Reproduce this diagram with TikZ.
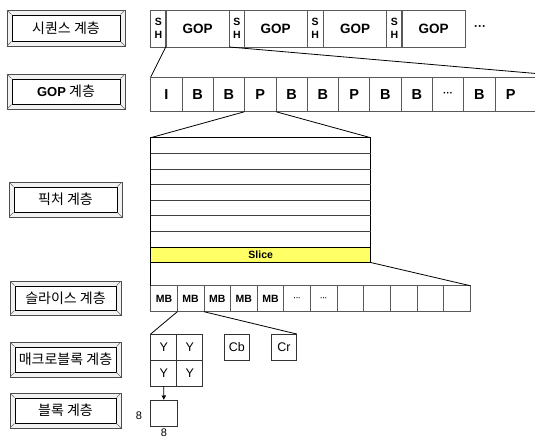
\documentclass[tikz,border=0pt]{standalone}
\usepackage{fontspec}
\setmainfont{Liberation Sans}
\newfontfamily\kr{Noto Sans CJK KR}
\usetikzlibrary{arrows.meta}
\definecolor{slicey}{HTML}{FFFF66}
\tikzset{
  cell/.style={draw=black!65, line width=0.8pt, inner sep=0pt, outer sep=0pt, anchor=north west, font=\bfseries},
  conn/.style={draw=black, line width=0.8pt},
  labin/.style={draw=black, line width=1pt, fill=white, inner sep=0pt, font=\kr\fontsize{14}{16}\selectfont},
}
% \bevbox{name}{x1}{y1}{x2}{y2}{text}
\newcommand\bevbox[6]{%
  \path[draw=black!70, line width=0.6pt, fill=gray!10] (#2,#3) rectangle (#4,#5);
  \node[labin, minimum width=#4-#2-10, minimum height=#5-#3-10] (#1) at ({(#2+#4)/2},{(#3+#5)/2}) {#6};
  \draw[black!60, line width=0.5pt] (#2,#3) -- (#1.north west) (#4,#3) -- (#1.north east)
     (#2,#5) -- (#1.south west) (#4,#5) -- (#1.south east);
}
\begin{document}
\begin{tikzpicture}[x=1pt,y=-1pt]
\useasboundingbox (0,0) rectangle (535,439);
\clip (0,0) rectangle (535,439);
\fill[white] (0,0) rectangle (535,439);

% ---------- left labels ----------
\bevbox{Lseq}{7}{10}{125}{46}{시퀀스 계층}
\bevbox{Lgop}{7}{74}{125}{109}{{\rmfamily\bfseries\fontsize{13}{15}\selectfont GOP} 계층}
\bevbox{Lpic}{9}{182}{122}{217}{픽처 계층}
\bevbox{Lsli}{10}{281}{121}{315}{슬라이스 계층}
\bevbox{Lmac}{10}{342}{121}{377}{매크로블록 계층}
\bevbox{Lblk}{10}{393}{121}{428}{블록 계층}

% ---------- sequence row ----------
\tikzset{shc/.style={cell, minimum width=15.3, minimum height=37, align=center, font=\bfseries\fontsize{10.5}{12.5}\selectfont},
         gopc/.style={cell, minimum height=37, font=\bfseries\fontsize{13.5}{15}\selectfont}}
\node[shc] (sh1) at (150.7,10) {S\\H};
\node[gopc, minimum width=63.6] (s1) at (165.7,10) {GOP};
\node[shc] (sh2) at (229.3,10) {S\\H};
\node[gopc, minimum width=62.7] (s2) at (244.3,10) {GOP};
\node[shc, minimum width=16.3] (sh3) at (307,10) {S\\H};
\node[gopc, minimum width=63.4] (s3) at (323.3,10) {GOP};
\node[shc] (sh4) at (386.7,10) {S\\H};
\node[gopc, minimum width=64] (s4) at (401.7,10) {GOP};
\node[font=\bfseries\fontsize{12}{14}\selectfont] (sdots) at (480,28.5) {···};

% ---------- GOP row ----------
\tikzset{gc/.style={cell, minimum width=31.3, minimum height=34.7, font=\bfseries\fontsize{14.5}{16}\selectfont}}
\node[gc] (g1) at (150.7,77) {I};
\node[gc] (g2) at (182.0,77) {B};
\node[gc] (g3) at (213.3,77) {B};
\node[gc] (g4) at (244.6,77) {P};
\node[gc] (g5) at (275.9,77) {B};
\node[gc] (g6) at (307.2,77) {B};
\node[gc] (g7) at (338.5,77) {P};
\node[gc] (g8) at (369.8,77) {B};
\node[gc] (g9) at (401.1,77) {B};
\node[gc, font=\bfseries\fontsize{10}{12}\selectfont] (g10) at (432.4,77) {···};
\node[gc] (g11) at (463.7,77) {B};
\node[gc, minimum width=81.3] (g12) at (495.0,77) {\makebox[81.3pt][l]{\makebox[31.3pt]{P}}};

\draw[conn] (s1.south west) -- (g1.north west);
\draw[conn] (s1.south east) -- (g12.north east);

% ---------- picture ----------
\node[draw=black, line width=0.8pt, inner sep=0pt, outer sep=0pt, anchor=north west,
      minimum width=220, minimum height=109.2] (pic) at (150.7,137.7) {};
\foreach \yy in {153.3,168.9,184.5,200.1,215.7,231.3}
  \draw[black!75, line width=0.7pt] (150.7,\yy) -- (370.7,\yy);
\node[draw=black, line width=0.8pt, fill=slicey, inner sep=0pt, outer sep=0pt, anchor=north west,
      minimum width=220, minimum height=15.6, font=\bfseries\fontsize{10.5}{12}\selectfont] (slice) at (150.7,246.9) {Slice};

\draw[conn] (g4.south west) -- (pic.north west);
\draw[conn] (g4.south east) -- (pic.north east);

% ---------- MB row ----------
\tikzset{mc/.style={cell, minimum width=26.63, minimum height=26, font=\bfseries\fontsize{10.5}{12}\selectfont}}
\node[mc] (m1) at (150.70,285.7) {MB};
\node[mc] (m2) at (177.33,285.7) {MB};
\node[mc] (m3) at (203.96,285.7) {MB};
\node[mc] (m4) at (230.59,285.7) {MB};
\node[mc] (m5) at (257.22,285.7) {MB};
\node[mc, font=\bfseries\fontsize{7}{8}\selectfont] (m6) at (283.85,285.7) {···};
\node[mc, font=\bfseries\fontsize{7}{8}\selectfont] (m7) at (310.48,285.7) {···};
\node[mc] (m8) at (337.11,285.7) {};
\node[mc] (m9) at (363.74,285.7) {};
\node[mc] (m10) at (390.37,285.7) {};
\node[mc] (m11) at (417.00,285.7) {};
\node[mc] (m12) at (443.63,285.7) {};

\draw[conn] (slice.south west) -- (m1.north west);
\draw[conn] (slice.south east) -- (m12.north east);

% ---------- macroblock ----------
\tikzset{yc/.style={draw=black!80, line width=0.8pt, inner sep=0pt, outer sep=0pt, anchor=north west,
      minimum width=26, minimum height=26, font=\fontsize{12.5}{14}\selectfont}}
\node[yc] (y11) at (150.7,334) {Y};
\node[yc] (y12) at (176.7,334) {Y};
\node[yc] (y21) at (150.7,360) {Y};
\node[yc] (y22) at (176.7,360) {Y};
\node[yc, minimum width=25.7] (cb) at (224,334) {Cb};
\node[yc, minimum width=25.4] (cr) at (271.3,334) {Cr};

\draw[conn] (m2.south west) -- (y11.north west);
\draw[conn] (m2.south east) -- (cr.north east);

% ---------- block ----------
\node[yc, minimum width=26.3, minimum height=26.7] (blk) at (150.7,400) {};
\draw[black, line width=0.8pt, -{Latex[length=4.5pt,width=5pt]}] (y21.south) -- (blk.north);
\node[font=\fontsize{11}{13}\selectfont] (n8a) at (139,416) {8};
\node[font=\fontsize{11}{13}\selectfont] (n8b) at (164,433) {8};
\end{tikzpicture}
\end{document}
